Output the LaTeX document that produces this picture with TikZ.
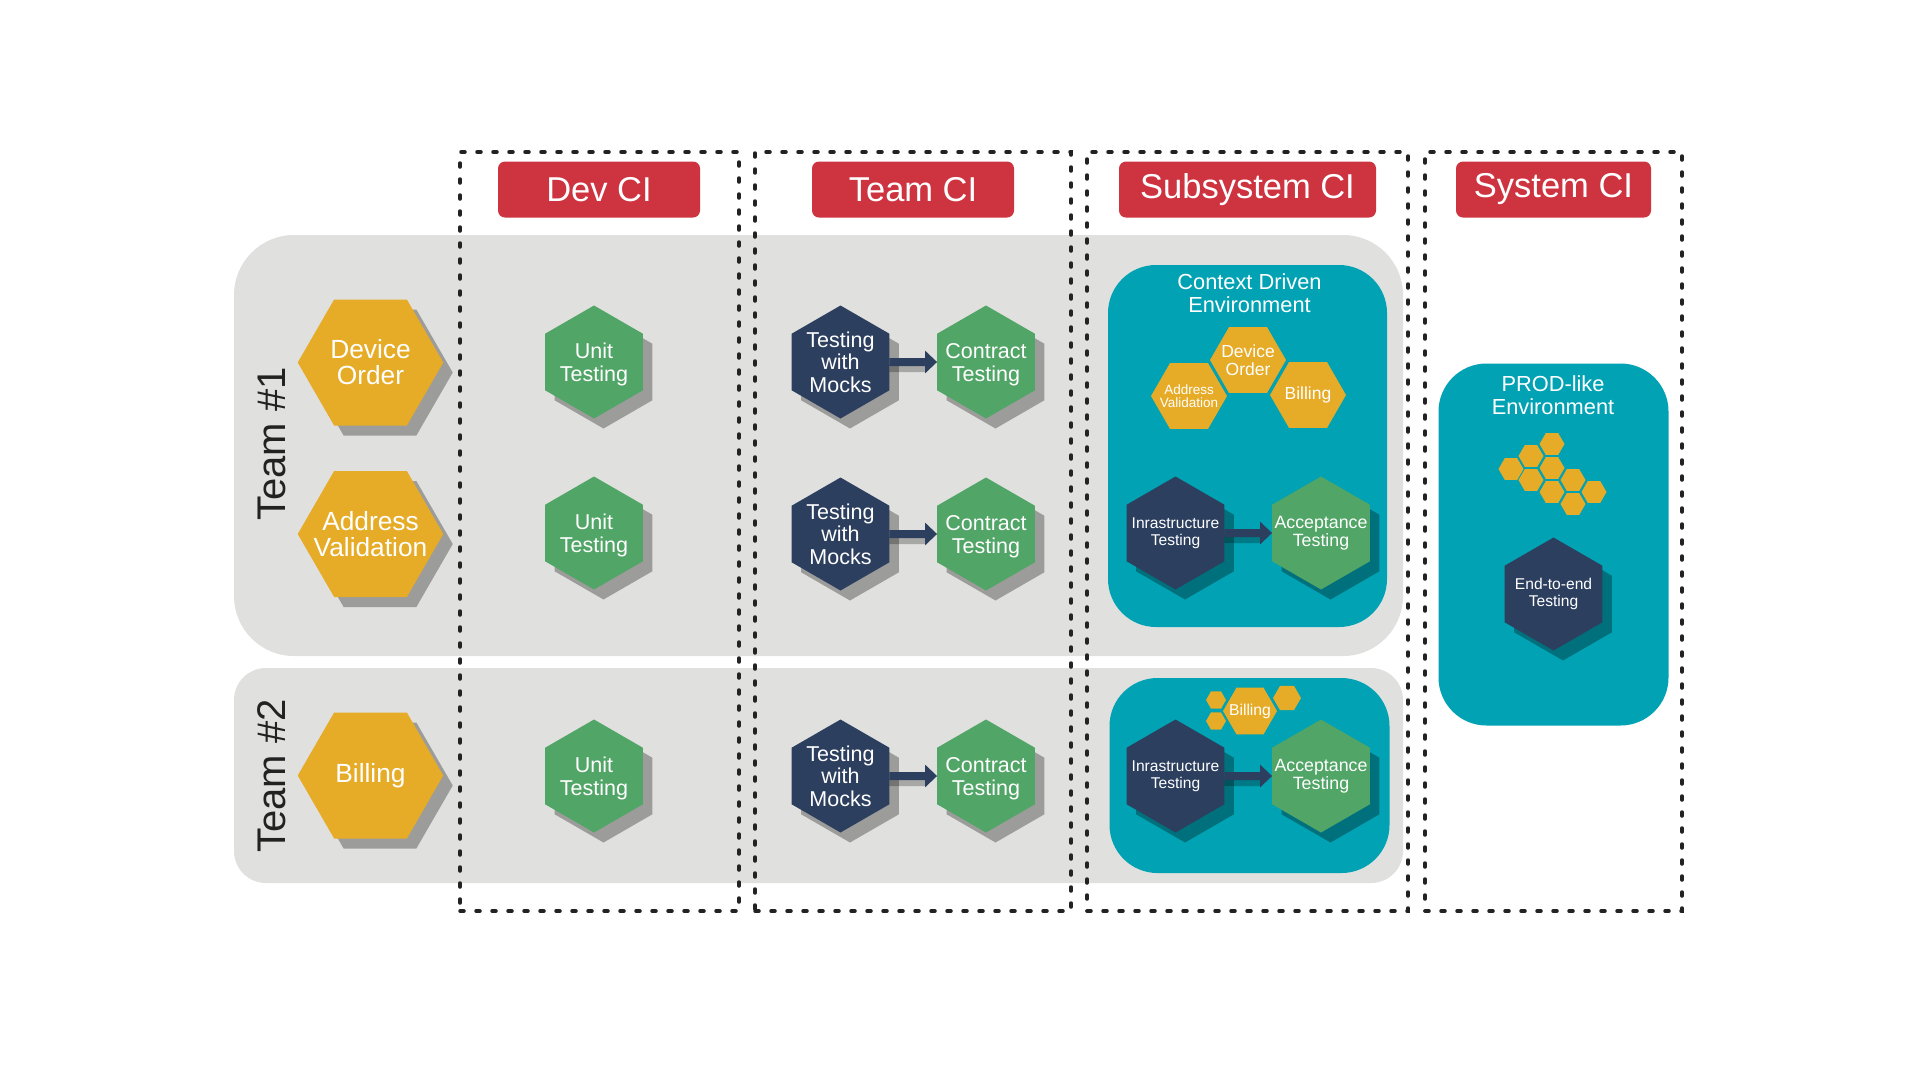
\documentclass[tikz,border=0pt]{standalone}
\usepackage{xcolor}
\usepackage{fontspec}
\setmainfont{Liberation Sans}
\usetikzlibrary{arrows.meta,shapes.geometric,shadows}

\definecolor{hexorange}{HTML}{E6AB27}
\definecolor{hexgreen}{HTML}{51A566}
\definecolor{hexnavy}{HTML}{2D3F5E}
\definecolor{envteal}{HTML}{00A2B3}
\definecolor{headred}{HTML}{CE3340}
\definecolor{bandgrey}{HTML}{E0E0DE}
\definecolor{lanedark}{HTML}{222222}

\tikzset{
    hexbase/.style={regular polygon, regular polygon sides=6, draw=none, text=white, align=center, inner sep=-15pt, outer sep=0pt},
    pointy/.style={hexbase, shape border rotate=30},
    flat/.style={hexbase, fill=hexorange},
    castshadow/.style={drop shadow={shadow xshift=9.5pt, shadow yshift=-10pt, fill=black, opacity=.3}},
    bighex/.style={flat, castshadow, minimum size=145.5pt, font=\fontsize{26.3}{26}\selectfont},
    ctxhex/.style={flat, minimum size=76pt, font=\fontsize{17.5}{18.7}\selectfont},
    cellhex/.style={flat, inner sep=0pt, minimum size=25pt},
    unithex/.style={pointy, castshadow, fill=hexgreen, minimum size=113pt, text depth=0pt, font=\fontsize{21.5}{23}\selectfont},
    mockhex/.style={pointy, castshadow, fill=hexnavy, minimum size=113pt, font=\fontsize{21.5}{22.5}\selectfont},
    accepthex/.style={unithex, text depth=, font=\fontsize{17.8}{18.3}\selectfont},
    infrahex/.style={mockhex, font=\fontsize{15.6}{16.7}\selectfont},
    band/.style={rectangle, fill=bandgrey, inner sep=0pt},
    envbox/.style={rectangle, fill=envteal, rounded corners=48pt, inner sep=0pt},
    lanebox/.style={rectangle, draw=lanedark, line width=3.5pt, dash pattern=on 4pt off 12pt, line cap=round, inner sep=0pt},
    headbox/.style={rectangle, fill=headred, rounded corners=7pt, text=white, minimum height=56pt, inner sep=0pt, font=\fontsize{34.5}{35}\selectfont},
    teamlabel/.style={text=lanedark, rotate=90, font=\fontsize{40}{40}\selectfont},
    envlabel/.style={text=white, align=center, font=\fontsize{21.8}{23}\selectfont},
    flowline/.style={line width=8pt, hexnavy, -{Triangle[length=12pt, width=22pt]}},
    flowshadow/.style={line width=8pt, black, opacity=.25, shorten >=12pt, transform canvas={yshift=-6pt}}
}

\begin{document}
\begin{tikzpicture}[x=1pt, y=-1pt, node distance=145.5pt]
    \path[fill=white, use as bounding box] (0,0) rectangle (1920,1080);

    % team bands
    \node[band, rounded corners=60pt, minimum width=1169pt, minimum height=421pt] (bandA) at (818.5,445.5) {};
    \node[band, rounded corners=32pt, minimum width=1169pt, minimum height=215pt] (bandB) at (818.5,775.5) {};
    \node[teamlabel] (teamA) at (272,444) {Team \#1};
    \node[teamlabel] (teamB) at (272,776) {Team \#2};

    % CI lanes
    \node[lanebox, minimum width=279pt, minimum height=759pt] (laneDev) at (599.5,531.5) {};
    \node[lanebox, minimum width=316pt, minimum height=759pt] (laneTeam) at (913,531.5) {};
    \node[lanebox, minimum width=321pt, minimum height=759pt] (laneSub) at (1247.5,531.5) {};
    \node[lanebox, minimum width=257pt, minimum height=759pt] (laneSys) at (1553.5,531.5) {};

    \node[headbox, minimum width=202pt] (headDev) at (599,189.5) {Dev CI};
    \node[headbox, minimum width=202pt] (headTeam) at (913,189.5) {Team CI};
    \node[headbox, minimum width=257pt] (headSub) at (1247.5,189.5) {\raisebox{3pt}{Subsystem CI}};
    \node[headbox, minimum width=195pt] (headSys) at (1553.5,189.5) {\raisebox{3pt}{System CI}};

    % environments
    \node[envbox, minimum width=279pt, minimum height=362pt] (envCtx) at (1247.5,446) {};
    \node[envbox, minimum width=280pt, minimum height=195pt] (envBill) at (1249.5,775.5) {};
    \node[envbox, minimum width=230pt, minimum height=362pt] (envProd) at (1553.5,544.5) {};
    \node[envlabel] (ctxTitle) at (1249.5,293) {Context Driven\\Environment};
    \node[envlabel] (prodTitle) at (1553,395) {PROD-like\\Environment};

    % domains
    \node[bighex] (device) at (370.5,362.5) {Device\\Order};
    \node[bighex] (address) at (370.5,534) {Address\\Validation};
    \node[bighex] (billing) at (370.5,775.5) {Billing};

    % dev CI
    \node[unithex] (unitA) at (594,362) {Unit\\Testing};
    \node[unithex] (unitB) at (594,533) {Unit\\Testing};
    \node[unithex] (unitC) at (594,776) {Unit\\Testing};

    % team CI
    \node[mockhex] (mocksA) at (840.5,362) {Testing\\with\\Mocks};
    \node[unithex, right of=mocksA] (contractA) {Contract\\Testing};
    \node[mockhex] (mocksB) at (840.5,534) {Testing\\with\\Mocks};
    \node[unithex, right of=mocksB] (contractB) {Contract\\Testing};
    \node[mockhex] (mocksC) at (840.5,776) {Testing\\with\\Mocks};
    \node[unithex, right of=mocksC] (contractC) {Contract\\Testing};

    % subsystem CI
    \node[ctxhex, text depth=-2.5pt] (ctxDevice) at (1248,360) {Device\\Order};
    \node[ctxhex, font=\fontsize{13.5}{13.5}\selectfont] (ctxAddress) at (1189,396) {Address\\Validation};
    \node[ctxhex] (ctxBilling) at (1308,395) {Billing};
    \node[infrahex] (infraA) at (1175.5,533) {Inrastructure\\Testing};
    \node[accepthex, right of=infraA] (acceptA) {Acceptance\\Testing};

    \node[cellhex, minimum size=20pt] (billCellA) at (1216,700) {};
    \node[cellhex, minimum size=20pt] (billCellB) at (1216,721) {};
    \node[cellhex, minimum size=28pt] (billCellC) at (1287,698) {};
    \node[flat, minimum size=54pt, font=\fontsize{15.7}{15.7}\selectfont] (ctxBillingB) at (1250,711) {Billing};
    \node[infrahex] (infraB) at (1175.5,776) {Inrastructure\\Testing};
    \node[accepthex, right of=infraB] (acceptB) {Acceptance\\Testing};

    % system CI
    \node[cellhex] (cellA) at (1552,444) {};
    \node[cellhex] (cellB) at (1531,456) {};
    \node[cellhex] (cellC) at (1511,469) {};
    \node[cellhex] (cellD) at (1552,468) {};
    \node[cellhex] (cellE) at (1531,480) {};
    \node[cellhex] (cellF) at (1573,480) {};
    \node[cellhex] (cellG) at (1552,492) {};
    \node[cellhex] (cellH) at (1594,492) {};
    \node[cellhex] (cellI) at (1573,504) {};
    \node[infrahex] (endtoend) at (1553.5,594) {End-to-end\\Testing};

    % arrows
    \draw[flowshadow] (mocksA) -- (contractA);
    \draw[flowshadow] (mocksB) -- (contractB);
    \draw[flowshadow] (mocksC) -- (contractC);
    \draw[flowshadow] (infraA) -- (acceptA);
    \draw[flowshadow] (infraB) -- (acceptB);
    \draw[flowline] (mocksA) -- (contractA);
    \draw[flowline] (mocksB) -- (contractB);
    \draw[flowline] (mocksC) -- (contractC);
    \draw[flowline] (infraA) -- (acceptA);
    \draw[flowline] (infraB) -- (acceptB);
\end{tikzpicture}
\end{document}
